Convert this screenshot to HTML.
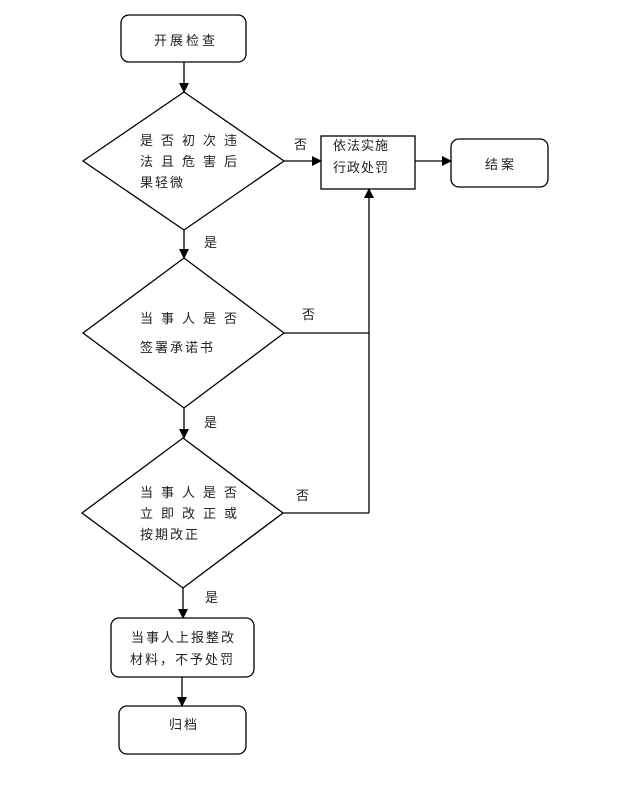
<!DOCTYPE html>
<html><head><meta charset="utf-8"><style>
html,body{margin:0;padding:0;background:#fff;}
svg text{font-family:"Liberation Sans","Noto Sans CJK SC",sans-serif;font-size:13px;fill:#222;}
</style></head><body>
<svg width="633" height="790" xmlns="http://www.w3.org/2000/svg">
<defs><marker id="a" markerWidth="10" markerHeight="10" refX="9" refY="5" orient="auto" markerUnits="userSpaceOnUse"><path d="M0,0 L10,5 L0,10 z" fill="#000"/></marker></defs>
<g stroke="#000" stroke-width="1.3" fill="none">
<rect x="121" y="15" width="125" height="47" rx="8"/>
<line x1="184" y1="62" x2="184" y2="92" marker-end="url(#a)"/>
<polygon points="184,92 284,161 184,230 83,161"/>
<line x1="284" y1="161" x2="321" y2="161" marker-end="url(#a)"/>
<rect x="321" y="136" width="94" height="53"/>
<line x1="415" y1="161" x2="451" y2="161" marker-end="url(#a)"/>
<rect x="451" y="139" width="97" height="48" rx="8"/>
<line x1="184" y1="230" x2="184" y2="258" marker-end="url(#a)"/>
<polygon points="184,258 284,333 184,408 83,333"/>
<line x1="284" y1="333" x2="369" y2="333"/>
<line x1="369" y1="513" x2="369" y2="189" marker-end="url(#a)"/>
<line x1="184" y1="408" x2="184" y2="438" marker-end="url(#a)"/>
<polygon points="183,438 283,513 183,588 82,513"/>
<line x1="283" y1="513" x2="369" y2="513"/>
<line x1="183" y1="588" x2="183" y2="618" marker-end="url(#a)"/>
<rect x="111" y="618" width="143" height="59" rx="8"/>
<line x1="182" y1="677" x2="182" y2="706" marker-end="url(#a)"/>
<rect x="119" y="706" width="127" height="48" rx="8"/>
</g>
<text x="154" y="45" letter-spacing="3">开展检查</text>
<text x="140" y="145" letter-spacing="8">是否初次违</text>
<text x="140" y="166" letter-spacing="8">法且危害后</text>
<text x="140" y="187" letter-spacing="2">果轻微</text>
<text x="333" y="150" letter-spacing="1">依法实施</text>
<text x="333" y="172" letter-spacing="1">行政处罚</text>
<text x="485" y="169" letter-spacing="3">结案</text>
<text x="294" y="149">否</text>
<text x="204" y="247">是</text>
<text x="140" y="323" letter-spacing="8">当事人是否</text>
<text x="140" y="352" letter-spacing="2">签署承诺书</text>
<text x="302" y="319">否</text>
<text x="204" y="427">是</text>
<text x="140" y="497" letter-spacing="8">当事人是否</text>
<text x="140" y="518" letter-spacing="8">立即改正或</text>
<text x="140" y="539" letter-spacing="2">按期改正</text>
<text x="296" y="500">否</text>
<text x="205" y="602">是</text>
<text x="131" y="642" letter-spacing="2">当事人上报整改</text>
<text x="130" y="664" letter-spacing="2">材料，不予处罚</text>
<text x="169" y="729" letter-spacing="2">归档</text>
</svg>
</body></html>
